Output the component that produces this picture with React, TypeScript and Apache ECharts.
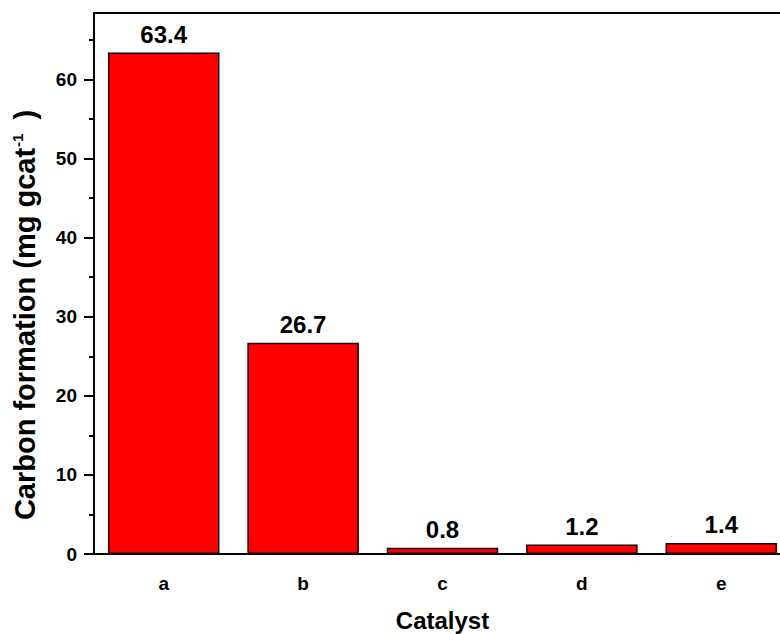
import React, { useEffect, useRef } from "react";
import * as echarts from "echarts";

const categories = ["a", "b", "c", "d", "e"];
const values = [63.4, 26.7, 0.8, 1.2, 1.4];
const yMajorTicks = [0, 10, 20, 30, 40, 50, 60];
const yMinorTicks = [5, 15, 25, 35, 45, 55, 65];

const FONT = "Liberation Sans, Arial, sans-serif";

export default function App() {
  const ref = useRef<HTMLDivElement>(null);
  useEffect(() => {
    const chart = echarts.init(ref.current!, null, { renderer: "svg" });
    const gridLeft = 94;
    const gridTop = 13;
    const gridW = 697;
    const gridH = 541;
    chart.setOption({
      animation: false,
      backgroundColor: "#ffffff",
      grid: {
        left: gridLeft,
        top: gridTop,
        width: gridW,
        height: gridH,
        show: true,
        borderColor: "#000",
        borderWidth: 2,
        backgroundColor: "transparent",
        outerBoundsMode: "none",
        containLabel: false,
      },
      xAxis: [
        {
          type: "category",
          data: categories,
          boundaryGap: true,
          axisLine: { lineStyle: { color: "#000", width: 2 } },
          axisTick: { alignWithLabel: true, length: 10, lineStyle: { color: "#000", width: 2 } },
          axisLabel: {
            color: "#000",
            fontFamily: FONT,
            fontWeight: "bold",
            fontSize: 19,
            margin: 20,
          },
          name: "Catalyst",
          nameLocation: "middle",
          nameGap: 54,
          nameTextStyle: { color: "#000", fontFamily: FONT, fontWeight: "bold", fontSize: 24 },
          splitLine: { show: false },
        },
        {
          type: "category",
          data: categories,
          position: "bottom",
          boundaryGap: true,
          axisLine: { show: false },
          axisTick: { length: 5, lineStyle: { color: "#000", width: 2 } },
          axisLabel: { show: false },
          splitLine: { show: false },
        },
      ],
      yAxis: [
        {
          type: "value",
          min: 0,
          max: 68.4,
          axisLine: { show: true, lineStyle: { color: "#000", width: 2 } },
          axisTick: { show: true, length: 10, customValues: yMajorTicks, lineStyle: { color: "#000", width: 2 } },
          axisLabel: {
            customValues: yMajorTicks,
            color: "#000",
            fontFamily: FONT,
            fontWeight: "bold",
            fontSize: 19,
            margin: 17,
          },
          splitLine: { show: false },
        },
        {
          type: "value",
          min: 0,
          max: 68.4,
          position: "left",
          axisLine: { show: false },
          axisTick: { show: true, length: 5, customValues: yMinorTicks, lineStyle: { color: "#000", width: 2 } },
          axisLabel: { show: false },
          splitLine: { show: false },
        },
      ],
      graphic: [
        {
          type: "text",
          x: 25,
          y: 315,
          rotation: Math.PI / 2,
          style: {
            text: "{m|Carbon formation (mg gcat}{s|-1}{m| )}",
            align: "center",
            verticalAlign: "middle",
            fill: "#000",
            rich: {
              m: { fontFamily: FONT, fontWeight: "bold", fontSize: 29, fill: "#000" },
              s: { fontFamily: FONT, fontWeight: "bold", fontSize: 15, fill: "#000", padding: [0, 6, 15, 1] },
            },
          },
        },
      ],
      series: [
        {
          type: "bar",
          data: values,
          xAxisIndex: 0,
          yAxisIndex: 0,
          barWidth: "80%",
          itemStyle: { color: "#ff0000", borderColor: "#1a0000", borderWidth: 1.5 },
          label: {
            show: true,
            position: "top",
            distance: 6,
            color: "#000",
            fontFamily: FONT,
            fontWeight: "bold",
            fontSize: 24,
          },
        },
      ],
    });
    return () => chart.dispose();
  }, []);
  return <div ref={ref} style={{ width: 780, height: 634, position: "absolute", left: 0, top: 0 }} />;
}
